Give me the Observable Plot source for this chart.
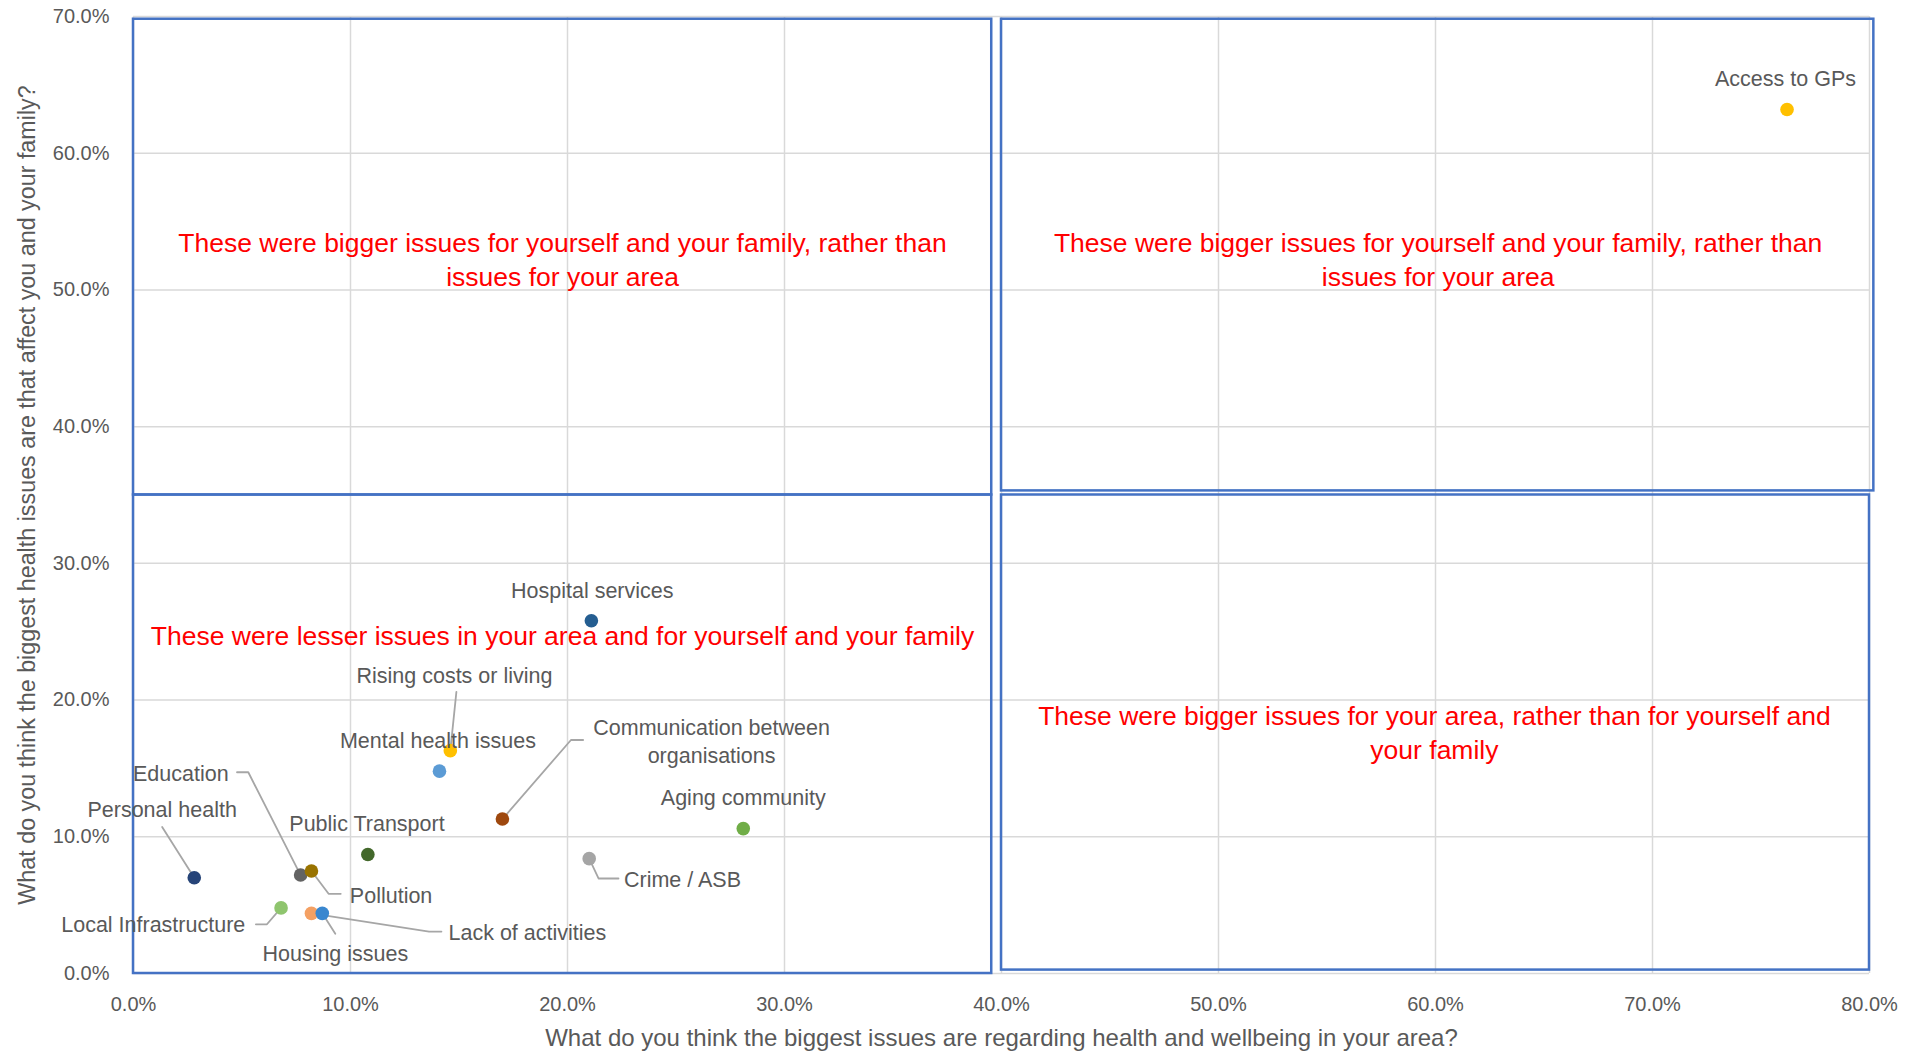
<!DOCTYPE html>
<html>
<head>
<meta charset="utf-8">
<script src="https://cdn.jsdelivr.net/npm/d3@7"></script>
<script src="https://cdn.jsdelivr.net/npm/@observablehq/plot@0.6"></script>
<style>
  html, body { margin: 0; padding: 0; background: #fff; }
  #chart svg { display: block; }
</style>
</head>
<body>
<div id="chart"></div>
<script>
// ---- Data (values in percent) ----
const issues = ["Hospital services","Rising costs or living","Mental health issues","Communication between\norganisations","Aging community","Crime / ASB","Public Transport","Personal health","Education","Pollution","Local Infrastructure","Lack of activities","Housing issues","Access to GPs"];
const areaPct   = [21.1, 14.6, 14.1, 17.0, 28.1, 21.0, 10.8, 2.8, 7.7, 8.2, 6.8, 8.2, 8.7, 76.2];
const familyPct = [25.8, 16.3, 14.8, 11.3, 10.6, 8.4, 8.7, 7.0, 7.2, 7.5, 4.8, 4.4, 4.4, 63.2];
const colors = ["#255E91","#FFC000","#5B9BD5","#9E480E","#70AD47","#A5A5A5","#43682B","#264478","#636363","#997300","#8FC56E","#F4A063","#3A87CF","#FFC000"];

// label anchor positions (data units, percent)
const labelX = [21.14, 14.79, 14.03, 26.64, 28.10, 25.30, 10.76, 1.32, 2.18, 11.87, 0.91, 18.15, 9.30, 76.13];
const labelY = [28.15, 21.93, 17.17, 17.06, 13.0, 7.0, 11.05, 12.13, 14.7, 5.84, 3.66, 3.11, 1.57, 65.6];

// leader lines (data units, percent): [issue index, x, y]
const leaders = [
  [1, 14.88, 20.6], [1, 14.6, 16.3],
  [3, 20.72, 17.08], [3, 20.16, 17.08], [3, 17.0, 11.3],
  [5, 21.0, 8.4], [5, 21.43, 6.95], [5, 22.35, 6.95],
  [7, 1.32, 10.72], [7, 2.8, 7.0],
  [8, 4.77, 14.72], [8, 5.29, 14.72], [8, 7.7, 7.2],
  [9, 8.2, 7.5], [9, 8.99, 5.83], [9, 9.55, 5.83],
  [10, 5.64, 3.6], [10, 6.15, 3.6], [10, 6.8, 4.8],
  [11, 14.19, 3.07], [11, 13.62, 3.07], [11, 8.2, 4.4],
  [12, 9.30, 2.90], [12, 8.7, 4.4]
];

// quadrant boxes (data units, percent)
const quadX1 = [0, 40, 0, 40];
const quadX2 = [39.55, 80.2, 39.55, 80.0];
const quadY1 = [35.0, 35.3, 0, 0.25];
const quadY2 = [69.8, 69.8, 35.0, 35.0];
const quadText = [
  "These were bigger issues for yourself and your family, rather than\nissues for your area",
  "These were bigger issues for yourself and your family, rather than\nissues for your area",
  "These were lesser issues in your area and for yourself and your family",
  "These were bigger issues for your area, rather than for yourself and\nyour family"
];
const quadTextX = [19.77, 60.12, 19.77, 59.95];
const quadTextY = [52.33, 52.33, 24.82, 17.73];

const xTicks = [0, 10, 20, 30, 40, 50, 60, 70, 80];
const yTicks = [0, 10, 20, 30, 40, 50, 60, 70];
const xTitle = "What do you think the biggest issues are regarding health and wellbeing in your area?";
const yTitle = "What do you think the biggest health issues are that affect you and your family?";

// ---- Build tables ----
const points = issues.map((name, i) => ({name, x: areaPct[i] / 100, y: familyPct[i] / 100, color: colors[i], lx: labelX[i] / 100, ly: labelY[i] / 100}));
const leaderRows = leaders.map(([i, x, y]) => ({id: i, x: x / 100, y: y / 100}));
const quads = quadText.map((t, i) => ({x1: quadX1[i] / 100, x2: quadX2[i] / 100, y1: quadY1[i] / 100, y2: quadY2[i] / 100, text: t, tx: quadTextX[i] / 100, ty: quadTextY[i] / 100}));

const font = "'Liberation Sans', Arial, sans-serif";
const pct = d3.format(".1%");

const chart = Plot.plot({
  width: 1907,
  height: 1052,
  marginLeft: 133,
  marginRight: 38,
  marginTop: 16,
  marginBottom: 79,
  style: {fontFamily: font, background: "#fff"},
  x: {domain: [0, 0.8], ticks: xTicks.map(d => d / 100), tickFormat: pct},
  y: {domain: [0, 0.7], ticks: yTicks.map(d => d / 100), tickFormat: pct},
  marks: [
    Plot.gridX(xTicks.map(d => d / 100), {stroke: "#d9d9d9", strokeOpacity: 1, strokeWidth: 1.5}),
    Plot.gridY(yTicks.map(d => d / 100), {stroke: "#d9d9d9", strokeOpacity: 1, strokeWidth: 1.5}),
    Plot.axisX(xTicks.map(d => d / 100), {tickSize: 0, tickPadding: 23, tickFormat: pct, fontSize: 20, fill: "#595959", label: null}),
    Plot.axisY(yTicks.map(d => d / 100), {tickSize: 0, tickPadding: 24, tickFormat: pct, fontSize: 20, fill: "#595959", label: null}),
    Plot.rect(quads, {x1: "x1", x2: "x2", y1: "y1", y2: "y2", fill: "none", stroke: "#4472C4", strokeWidth: 2.5}),
    Plot.text(quads, {x: "tx", y: "ty", text: "text", fill: "#FF0000", fontSize: 26.5, lineHeight: 1.28, textAnchor: "middle"}),
    Plot.line(leaderRows, {x: "x", y: "y", z: "id", stroke: "#a6a6a6", strokeWidth: 1.8}),
    Plot.dot(points, {x: "x", y: "y", r: 6.8, fill: "color", stroke: "none"}),
    Plot.text(points, {x: "lx", y: "ly", text: "name", fill: "#595959", fontSize: 21.5, lineHeight: 1.3, textAnchor: "middle"}),
    Plot.text([xTitle], {frameAnchor: "bottom", dy: 72, fill: "#595959", fontSize: 24, textAnchor: "middle"}),
    Plot.text([yTitle], {frameAnchor: "left", dx: -106, rotate: -90, fill: "#595959", fontSize: 23.3, textAnchor: "middle"})
  ]
});
document.getElementById("chart").appendChild(chart);
</script>
</body>
</html>
